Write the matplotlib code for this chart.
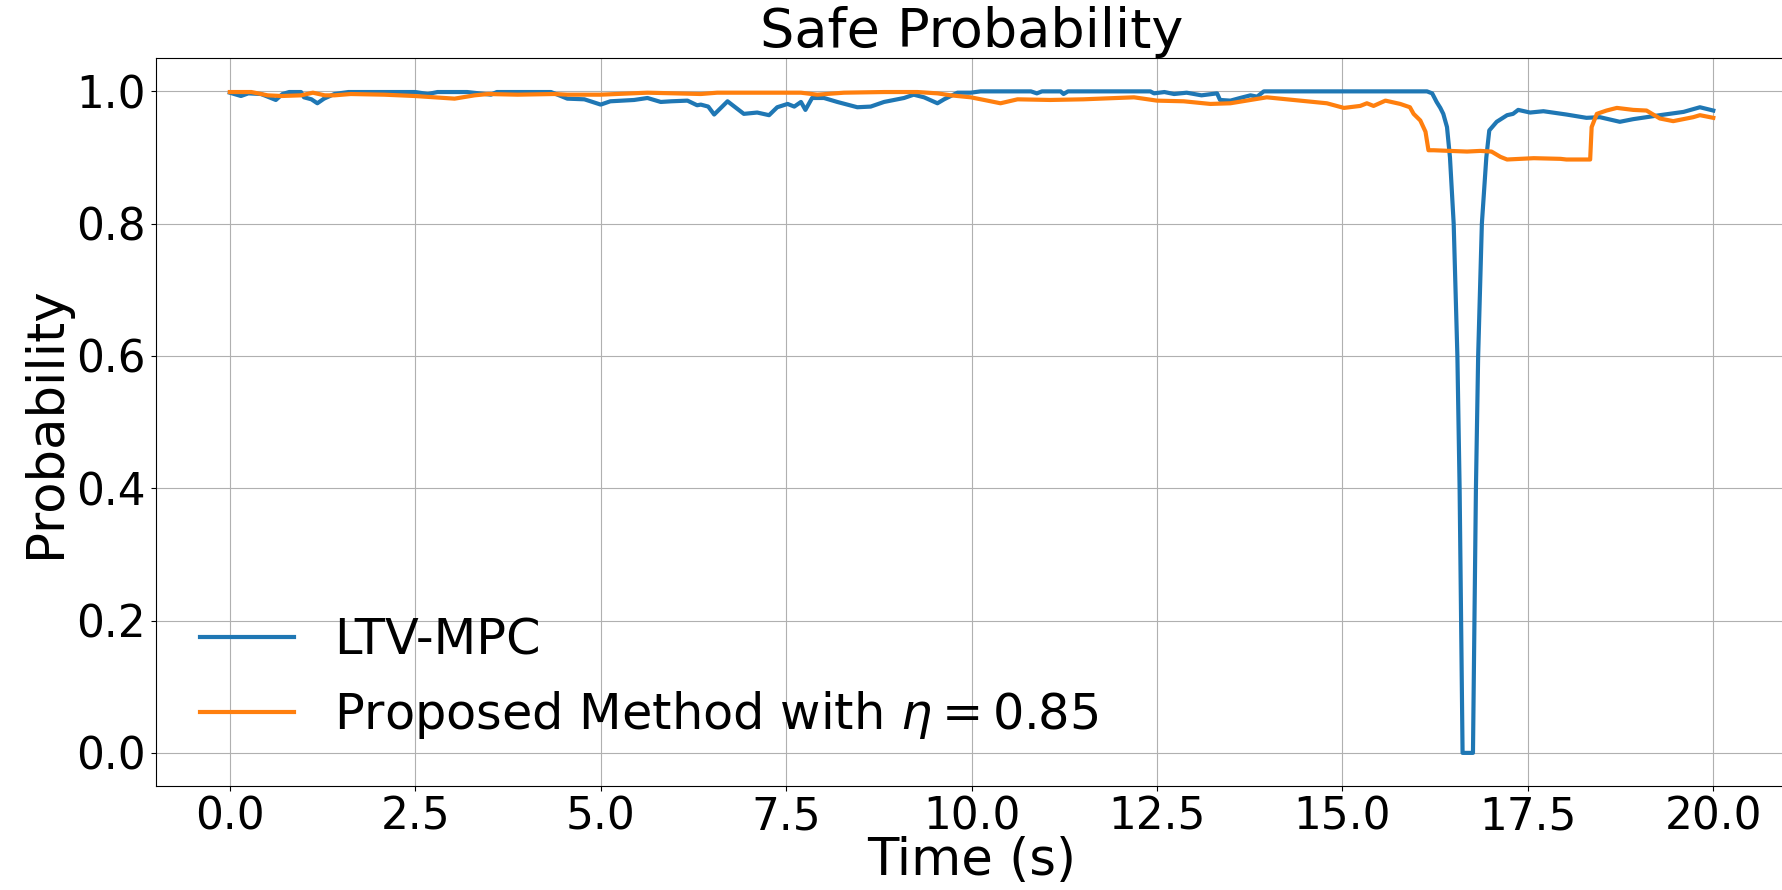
import numpy as np
import matplotlib.pyplot as plt

# LTV-MPC safe probability
ltv_t = [0.0, 0.15, 0.25, 0.42, 0.51, 0.62, 0.71, 0.8, 0.96, 1.0, 1.1, 1.18, 1.27, 1.41,
         1.6, 2.0, 2.5, 2.67, 2.8, 3.2, 3.52, 3.6, 4.0, 4.33, 4.55, 4.78, 5.0, 5.13,
         5.45, 5.63, 5.81, 5.95, 6.17, 6.3, 6.35, 6.45, 6.53, 6.71, 6.93, 7.11, 7.27,
         7.38, 7.52, 7.61, 7.7, 7.76, 7.85, 8.01, 8.19, 8.46, 8.64, 8.82, 9.09, 9.22,
         9.36, 9.54, 9.63, 9.81, 9.99, 10.12, 10.8, 10.88, 10.95, 11.2, 11.24, 11.3,
         12.41, 12.46, 12.6, 12.73, 12.9, 13.1, 13.31, 13.35, 13.49, 13.62, 13.76,
         13.85, 13.94, 15.5, 16.14, 16.21, 16.27, 16.32, 16.36, 16.41, 16.45, 16.5,
         16.55, 16.58, 16.6, 16.62, 16.76, 16.78, 16.8, 16.83, 16.88, 16.94, 16.98,
         17.08, 17.22, 17.3, 17.37, 17.53, 17.71, 18.02, 18.29, 18.47, 18.74, 18.92,
         19.28, 19.6, 19.82, 20.0]
ltv_p = [0.998, 0.993, 0.997, 0.996, 0.992, 0.987, 0.996, 0.999, 0.999, 0.991, 0.988,
         0.982, 0.989, 0.996, 0.999, 0.999, 0.999, 0.996, 0.999, 0.999, 0.995, 0.999,
         0.999, 0.999, 0.989, 0.988, 0.980, 0.985, 0.987, 0.990, 0.984, 0.985, 0.986,
         0.979, 0.980, 0.977, 0.965, 0.985, 0.966, 0.968, 0.964, 0.976, 0.981, 0.977,
         0.984, 0.972, 0.990, 0.990, 0.984, 0.976, 0.977, 0.984, 0.990, 0.995, 0.991,
         0.982, 0.988, 0.998, 0.998, 1.0, 1.0, 0.997, 1.0, 1.0, 0.996, 1.0,
         1.0, 0.997, 0.999, 0.996, 0.998, 0.994, 0.997, 0.987, 0.986, 0.990, 0.994,
         0.992, 1.0, 1.0, 1.0, 0.997, 0.984, 0.975, 0.966, 0.946, 0.90, 0.80,
         0.60, 0.40, 0.20, 0.0, 0.0, 0.20, 0.40, 0.60, 0.80, 0.90, 0.941,
         0.954, 0.964, 0.966, 0.972, 0.968, 0.970, 0.965, 0.960, 0.961, 0.954, 0.958,
         0.964, 0.969, 0.976, 0.971]

# Proposed method safe probability
prop_t = [0.0, 0.29, 0.51, 0.7, 0.96, 1.12, 1.28, 1.41, 1.63, 2.08, 2.49, 2.76, 3.03,
          3.3, 3.48, 3.88, 4.37, 4.55, 5.0, 5.63, 6.0, 6.35, 6.57, 7.02, 7.7, 7.92,
          8.28, 8.82, 9.27, 9.54, 9.72, 9.99, 10.17, 10.39, 10.62, 11.06, 11.51,
          11.96, 12.19, 12.5, 12.86, 13.22, 13.49, 13.76, 13.98, 14.43, 14.79, 15.02,
          15.24, 15.33, 15.42, 15.58, 15.78, 15.91, 15.96, 16.05, 16.12, 16.16,
          16.23, 16.45, 16.68, 16.86, 17.01, 17.13, 17.22, 17.58, 17.94, 18.02,
          18.34, 18.36, 18.43, 18.56, 18.7, 18.92, 19.1, 19.28, 19.46, 19.73, 19.82,
          20.0]
prop_p = [0.999, 0.999, 0.994, 0.993, 0.994, 0.998, 0.994, 0.994, 0.996, 0.995, 0.993,
          0.991, 0.989, 0.994, 0.996, 0.995, 0.996, 0.995, 0.995, 0.998, 0.997, 0.996,
          0.998, 0.998, 0.998, 0.995, 0.998, 0.999, 0.999, 0.997, 0.994, 0.991, 0.987,
          0.982, 0.988, 0.987, 0.988, 0.990, 0.991, 0.986, 0.985, 0.981, 0.982, 0.987,
          0.991, 0.986, 0.982, 0.975, 0.978, 0.982, 0.978, 0.986, 0.981, 0.976, 0.966,
          0.956, 0.939, 0.911, 0.911, 0.910, 0.909, 0.910, 0.909, 0.901, 0.897, 0.899,
          0.898, 0.897, 0.897, 0.946, 0.966, 0.971, 0.975, 0.972, 0.971, 0.959, 0.955,
          0.961, 0.964, 0.960]

fig = plt.figure(figsize=(17.83, 8.9), dpi=100)
ax = fig.add_axes([0.0873, 0.1169, 0.9152, 0.8176])
ax.plot(ltv_t, ltv_p, color='#1f77b4', lw=3, label='LTV-MPC')
ax.plot(prop_t, prop_p, color='#ff7f0e', lw=3, label=r'Proposed Method with $\eta = 0.85$')
ax.set_xlim(-1, 21)
ax.set_ylim(-0.05, 1.05)
ax.grid(True)
ax.tick_params(labelsize=31.5)
ax.set_title('Safe Probability', fontsize=39, pad=4)
ax.set_xlabel('Time (s)', fontsize=37, labelpad=-2)
ax.set_ylabel('Probability', fontsize=37)
ax.legend(loc='lower left', fontsize=35.6, frameon=False, handlelength=1.9)
fig.savefig('out.png', dpi=100)
